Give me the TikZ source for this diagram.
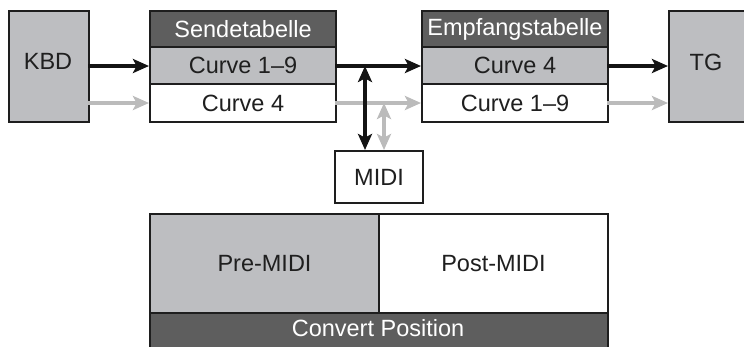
\documentclass[tikz,border=0pt]{standalone}
\usepackage{fontspec}
\setmainfont{Liberation Sans}
\usetikzlibrary{arrows.meta}
\definecolor{hdr}{HTML}{5E5E5E}
\definecolor{lgray}{HTML}{BDBEC1}
\definecolor{agray}{HTML}{BBBBBB}
\definecolor{edge}{HTML}{1E1E1E}
\tikzset{
  lbl/.style={font=\fontsize{23.5}{27}\selectfont},
  box/.style={draw=edge, line width=2pt, rectangle, inner sep=0pt, lbl},
  hdrbox/.style={box, fill=hdr, text=white},
  graybox/.style={box, fill=lgray, text=black!88},
  whitebox/.style={box, fill=white, text=black!88},
  tip/.style={Stealth[length=16pt,width=14pt,inset=3.5pt]},
  blk/.style={draw=black!92, line width=3.2pt, -{Stealth[length=16pt,width=14pt,inset=3.5pt]}},
  gry/.style={draw=agray, line width=3.2pt, -{Stealth[length=16pt,width=14pt,inset=3.5pt]}},
  blk2/.style={draw=black!92, line width=3.2pt, {Stealth[length=16pt,width=14pt,inset=3.5pt]}-{Stealth[length=16pt,width=14pt,inset=3.5pt]}},
  gry2/.style={draw=agray, line width=3.2pt, {Stealth[length=16pt,width=14pt,inset=3.5pt]}-{Stealth[length=16pt,width=14pt,inset=3.5pt]}},
}
\begin{document}
\begin{tikzpicture}[x=1pt,y=-1pt]
\useasboundingbox (0,0) rectangle (744,346);
\clip (0,0) rectangle (744,346);
% KBD and TG
\node[graybox, minimum width=80pt, minimum height=111pt, anchor=north west] (kbd) at (8,10) {};
\node[text=black!88, lbl] (kbdt) at (48,61) {KBD};
\node[graybox, minimum width=76pt, minimum height=111pt, anchor=north west] (tg) at (668,10) {};
\node[text=black!88, lbl] (tgt) at (706,62) {TG};
% Sendetabelle
\node[hdrbox, minimum width=186pt, minimum height=36pt, anchor=north west] (sh) at (149,10) {Sendetabelle};
\node[graybox, minimum width=186pt, minimum height=37pt, anchor=north west] (s1) at (149,46) {Curve 1–9};
\node[whitebox, minimum width=186pt, minimum height=38pt, anchor=north west] (s2) at (149,83) {Curve 4};
% Empfangstabelle
\node[hdrbox, minimum width=186pt, minimum height=36pt, anchor=north west] (eh) at (421,10) {Empfangstabelle};
\node[graybox, minimum width=186pt, minimum height=37pt, anchor=north west] (e1) at (421,46) {Curve 4};
\node[whitebox, minimum width=186pt, minimum height=38pt, anchor=north west] (e2) at (421,83) {Curve 1–9};
% MIDI
\node[whitebox, minimum width=88pt, minimum height=52pt, anchor=north west] (midi) at (334,150) {MIDI};
% bottom
\node[graybox, minimum width=229pt, minimum height=99pt, anchor=north west] (pre) at (149,213) {Pre-MIDI};
\node[whitebox, minimum width=229pt, minimum height=99pt, anchor=north west] (post) at (378,213) {Post-MIDI};
\node[hdrbox, minimum width=458pt, minimum height=40pt, anchor=north west] (conv) at (149,312) {};
\node[text=white, lbl] (convt) at (378,328) {Convert Position};
% coordinates
\coordinate (kb1) at (88,66);
\coordinate (kb2) at (88,103);
\coordinate (tg1) at (668,66);
\coordinate (tg2) at (668,103);
\coordinate (sa) at (335,66);
\coordinate (sb) at (335,103);
\coordinate (ea) at (421,66);
\coordinate (eb) at (421,103);
\coordinate (eo1) at (607,66);
\coordinate (eo2) at (607,103);
\coordinate (sw1) at (149,66);
\coordinate (sw2) at (149,103);
\coordinate (ja) at (365,66);
\coordinate (jb) at (384,103);
% arrows
\draw[gry] (kb2) -- (sw2);
\draw[gry] (sb) -- (eb);
\draw[gry] (eo2) -- (tg2);
\draw[gry2] (jb) -- (jb |- midi.north);
\draw[blk] (kb1) -- (sw1);
\draw[blk] (sa) -- (ea);
\draw[blk] (eo1) -- (tg1);
\draw[blk2] (ja) -- (ja |- midi.north);
\end{tikzpicture}
\end{document}
